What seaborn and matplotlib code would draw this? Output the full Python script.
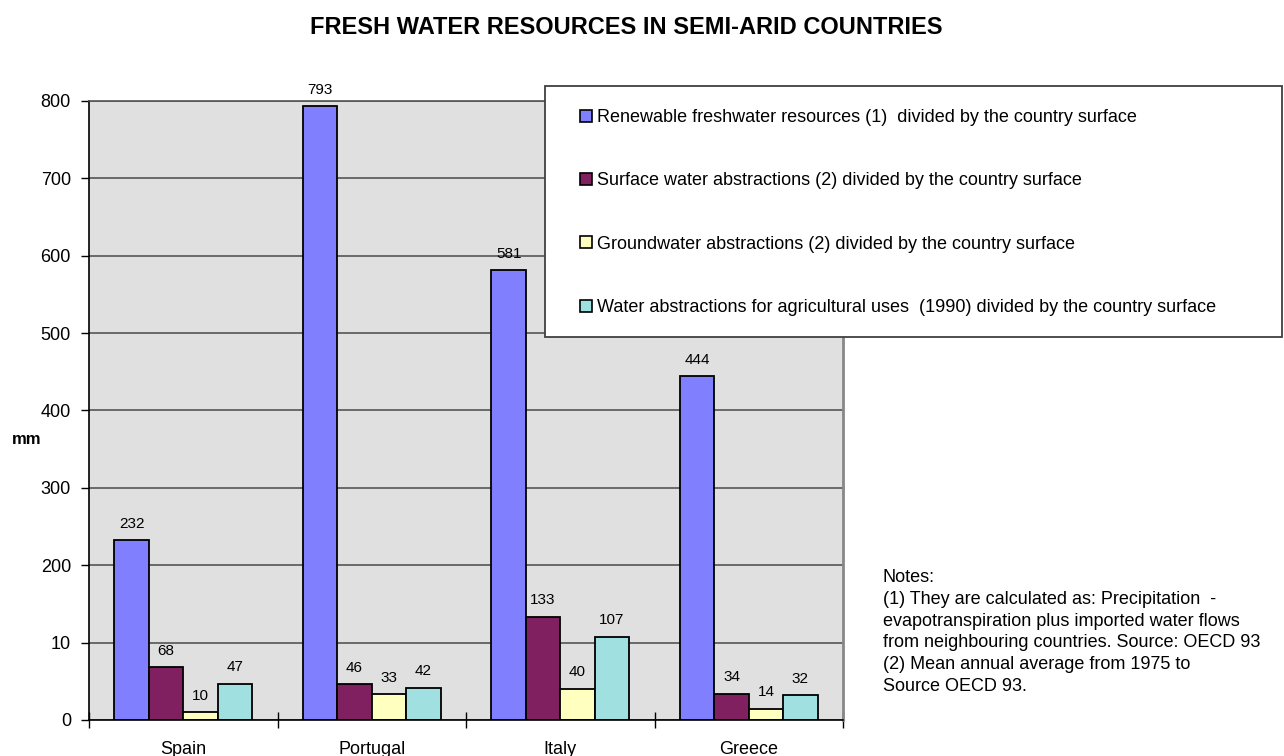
import matplotlib
matplotlib.use("Agg")
import matplotlib.pyplot as plt
from matplotlib.patches import Patch, Rectangle
import pandas as pd
import seaborn as sns

plt.rcParams['font.family'] = ['Liberation Sans', 'DejaVu Sans']

# ---- data (mm per year, divided by the country surface) ----
countries = ["Spain", "Portugal", "Italy", "Greece"]
series = [
    "Renewable freshwater resources (1)  divided by the country surface",
    "Surface water abstractions (2) divided by the country surface",
    "Groundwater abstractions (2) divided by the country surface",
    "Water abstractions for agricultural uses  (1990) divided by the country surface",
]
renewable = [232, 793, 581, 444]
surface = [68, 46, 133, 34]
groundwater = [10, 33, 40, 14]
agricultural = [47, 42, 107, 32]
ytick_values = [0, 100, 200, 300, 400, 500, 600, 700, 800]
ytick_labels = ["0", "10", "200", "300", "400", "500", "600", "700", "800"]
colors = ["#8080FF", "#802060", "#FFFFC0", "#A0E0E0"]

notes = ("Notes:\n"
         "(1) They are calculated as: Precipitation  -\n"
         "evapotranspiration plus imported water flows\n"
         "from neighbouring countries. Source: OECD 93\n"
         "(2) Mean annual average from 1975 to\n"
         "Source OECD 93.")

rows = []
for name, vals in zip(series, [renewable, surface, groundwater, agricultural]):
    for c, v in zip(countries, vals):
        rows.append({"country": c, "series": name, "value": v})
df = pd.DataFrame(rows)

W, H = 1284, 756
fig = plt.figure(figsize=(W / 100, H / 100), dpi=100)
ax = fig.add_axes([89 / W, 1 - 720 / H, (843 - 89) / W, (720 - 101) / H])
ax.set_facecolor("#E0E0E0")
ax.set_axisbelow(True)
ax.yaxis.grid(True, color="#555555", lw=1.2)

sns.barplot(data=df, x="country", y="value", hue="series",
            order=countries, hue_order=series, palette=colors,
            width=0.73, saturation=1, edgecolor="black", linewidth=1.3,
            errorbar=None, legend=False, ax=ax)

for cont in ax.containers:
    ax.bar_label(cont, fmt="%d", padding=7, fontsize=11)

ax.set_xlim(-0.5, 3.5)
ax.set_ylim(0, 800)
ax.set_yticks(ytick_values)
ax.set_yticklabels(ytick_labels)
ax.set_xlabel("")
ax.set_ylabel("")
ax.tick_params(axis="y", length=6, width=1, pad=7, labelsize=13)
ax.tick_params(axis="x", which="major", length=0, pad=15, labelsize=13)
ax.set_xticks([-0.5, 0.5, 1.5, 2.5, 3.5], minor=True)
ax.tick_params(axis="x", which="minor", direction="inout", length=12, width=1)

for side in ["left", "bottom"]:
    ax.spines[side].set_color("black")
    ax.spines[side].set_linewidth(1.2)
ax.spines["top"].set_color("#555555")
ax.spines["top"].set_linewidth(1.2)
ax.spines["right"].set_color("#888888")
ax.spines["right"].set_linewidth(2)

# legend panel
box = Rectangle((545 / W, 1 - 337 / H), (1282 - 545) / W, (337 - 86) / H,
                transform=fig.transFigure, facecolor="white",
                edgecolor="#404040", lw=1.3, zorder=1)
fig.add_artist(box)
handles = [Patch(facecolor=c, edgecolor="black", lw=1.2) for c in colors]
fig.legend(handles, series, loc="upper left",
           bbox_to_anchor=(580 / W, 1 - 109 / H), frameon=False,
           fontsize=13, handlelength=0.65, handleheight=0.65,
           handletextpad=0.28, labelspacing=2.57, borderpad=0,
           borderaxespad=0)

fig.text(626 / W, 1 - 28 / H, "FRESH WATER RESOURCES IN SEMI-ARID COUNTRIES",
         ha="center", va="center", fontsize=17, fontweight="bold")
fig.text(27 / W, 1 - 440 / H, "mm", ha="center", va="center",
         fontsize=12, fontweight="bold")
fig.text(883 / W, 1 - 569 / H, notes, ha="left", va="top",
         fontsize=13, linespacing=1.37)

fig.savefig("out.png", dpi=100)
